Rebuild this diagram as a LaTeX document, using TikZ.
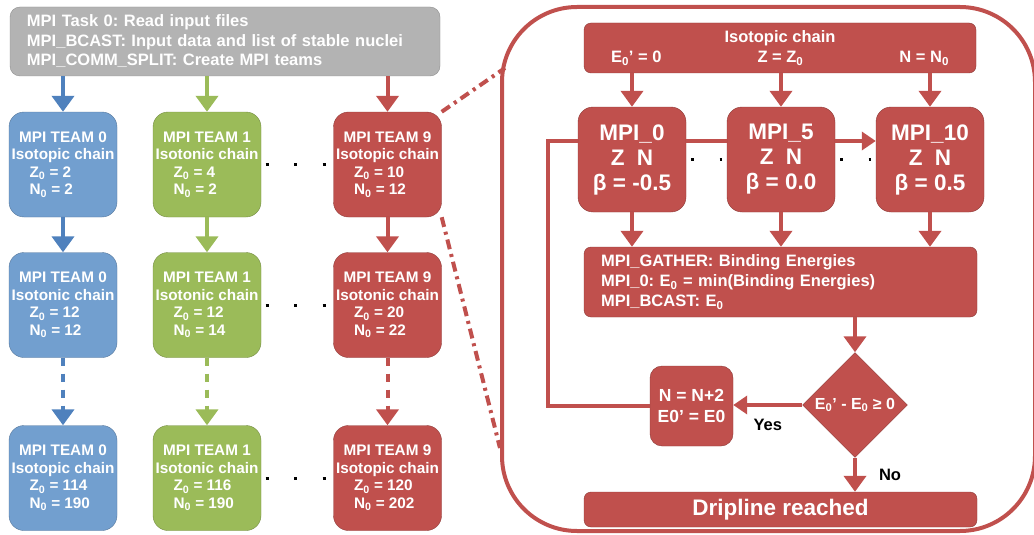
\documentclass[tikz,border=0pt]{standalone}
\usepackage{fontspec}
\setmainfont{Liberation Sans}
\usetikzlibrary{arrows.meta,shapes.geometric}
\frenchspacing
\definecolor{teamblue}{HTML}{729FCF}
\definecolor{lineblue}{HTML}{4F81BD}
\definecolor{teamgreen}{HTML}{9BBB59}
\definecolor{teamred}{HTML}{C0504D}
\definecolor{darkred}{HTML}{8C3A37}
\definecolor{taskgray}{HTML}{B3B3B3}
\newcommand{\teamlabel}[4]{MPI TEAM #1\\#2\\\makebox[67pt][l]{Z\textsubscript{0} = #3}\\\makebox[67pt][l]{N\textsubscript{0} = #4}}

\begin{document}
\begin{tikzpicture}[x=1pt, y=-1pt, font=\bfseries,
  task/.style = {shape=rectangle, draw=taskgray!80!black, fill=taskgray, text=white, align=left, rounded corners=10pt, text width=396pt, inner xsep=17pt, minimum height=69pt, font=\bfseries\fontsize{16.5}{19.5}\selectfont},
  team/.style = {shape=rectangle, draw=#1!75!black, fill=#1, text=white, align=center, rounded corners=15pt, minimum width=108pt, minimum height=105pt, inner sep=0pt, font=\bfseries\fontsize{15.3}{17.5}\selectfont},
  redbox/.style = {shape=rectangle, draw=darkred, fill=teamred, text=white, rounded corners=7pt, inner sep=0pt},
  mpibox/.style = {redbox, rounded corners=15pt, minimum width=108pt, minimum height=105pt, align=center, font=\bfseries\fontsize{22.5}{25}\selectfont},
  flow/.style = {draw=#1, line width=4pt, -{Triangle[width=22pt,length=16pt]}},
  hflow/.style = {flow=#1, -{Triangle[width=18pt,length=14pt]}},
  dashflow/.style = {flow=#1, dash pattern=on 8pt off 8pt},
  redline/.style = {draw=teamred, line width=4pt},
  zoomline/.style = {redline, dash pattern=on 10pt off 5pt on 3pt off 5pt},
  dotline/.style = {draw=black, line width=3pt, dash pattern=on 3pt off 25.5pt},
  answer/.style = {text=black, inner sep=0pt, font=\bfseries\fontsize{16.5}{18}\selectfont}]
\useasboundingbox (0,0) rectangle (1034,535);

\node[task] (task) at (225,41.5) {MPI Task 0: Read input files\\MPI\_BCAST: Input data and list of stable nuclei\\MPI\_COMM\_SPLIT: Create MPI teams};

\node[team=teamblue] (b1) at (63,164.5) {\teamlabel{0}{Isotopic chain}{2}{2}};
\node[team=teamgreen] (g1) at (207,164.5) {\teamlabel{1}{Isotonic chain}{4}{2}};
\node[team=teamred] (r1) at (387.5,164.5) {\teamlabel{9}{Isotopic chain}{10}{12}};
\node[team=teamblue] (b2) at (63,305) {\teamlabel{0}{Isotonic chain}{12}{12}};
\node[team=teamgreen] (g2) at (207,305) {\teamlabel{1}{Isotonic chain}{12}{14}};
\node[team=teamred] (r2) at (387.5,305) {\teamlabel{9}{Isotonic chain}{20}{22}};
\node[team=teamblue] (b3) at (63,478) {\teamlabel{0}{Isotopic chain}{114}{190}};
\node[team=teamgreen] (g3) at (207,478) {\teamlabel{1}{Isotonic chain}{116}{190}};
\node[team=teamred] (r3) at (387.5,478) {\teamlabel{9}{Isotopic chain}{120}{202}};

\draw[flow=lineblue] (task.south -| b1) -- (b1);
\draw[flow=teamgreen] (task.south -| g1) -- (g1);
\draw[flow=teamred] (task.south -| r1) -- (r1);
\draw[flow=lineblue] (b1) -- (b2);
\draw[flow=teamgreen] (g1) -- (g2);
\draw[flow=teamred] (r1) -- (r2);
\draw[dashflow=lineblue] (b2) -- (b3);
\draw[dashflow=teamgreen] (g2) -- (g3);
\draw[dashflow=teamred] (r2) -- (r3);

\draw[dotline] ([xshift=4.5pt]g1.east) -- ([xshift=-6pt]r1.west);
\draw[dotline] ([xshift=4.5pt]g2.east) -- ([xshift=-6pt]r2.west);
\draw[dotline] ([xshift=4.5pt]g3.east) -- ([xshift=-6pt]r3.west);

\draw[redline, rounded corners=75pt] (502,7) rectangle (1035,531);
\coordinate (z1) at (505,68);
\coordinate (z2) at (500,448);
\draw[zoomline] (r1.north east) -- (z1);
\draw[zoomline] (r1.south east) -- (z2);

\node[redbox, minimum width=392pt, minimum height=50pt, align=center, font=\bfseries\fontsize{16.5}{20}\selectfont] (chain) at (780,48) {Isotopic chain\\\makebox[338pt]{E\textsubscript{0}’ = 0\hfill Z = Z\textsubscript{0}\hfill N = N\textsubscript{0}}};

\node[mpibox] (m0) at (632,159.5) {MPI\_0\\Z~~N\\β = -0.5};
\node[mpibox] (m5) at (781,159.5) {MPI\_5\\Z~~N\\β = 0.0};
\node[mpibox] (m10) at (930,159.5) {MPI\_10\\Z~~N\\β = 0.5};

\node[redbox, minimum width=393pt, minimum height=70pt, text width=359pt, inner xsep=17pt, align=left, font=\bfseries\fontsize{16.5}{20}\selectfont] (gather) at (780.5,282) {MPI\_GATHER: Binding Energies\\MPI\_0: E\textsubscript{0} = min(Binding Energies)\\MPI\_BCAST: E\textsubscript{0}};

\node[redbox, shape=diamond, sharp corners, minimum size=105pt, font=\bfseries\fontsize{16}{18}\selectfont] (test) at (855,405) {E\textsubscript{0}’ - E\textsubscript{0} ≥ 0};
\node[redbox, rounded corners=12pt, minimum width=83pt, minimum height=80pt, align=center, font=\bfseries\fontsize{17.5}{21}\selectfont] (next) at (691.5,406) {N = N+2\\E0’ = E0};
\node[redbox, minimum width=393pt, minimum height=35pt, font=\bfseries\fontsize{22.5}{25}\selectfont] (drip) at (780.5,509.5) {Dripline reached};

\draw[flow=teamred] (chain.south -| m0) -- (m0);
\draw[flow=teamred] (chain.south -| m5) -- (m5);
\draw[flow=teamred] (chain.south -| m10) -- (m10);
\draw[flow=teamred] (m0) -- (m0 |- gather.north);
\draw[flow=teamred] (m5) -- (m5 |- gather.north);
\draw[flow=teamred] (m10) -- (m10 |- gather.north);
\draw[dotline] ([xshift=5pt]m0.east) -- ([xshift=-5pt]m5.west);
\draw[dotline] ([xshift=5pt]m5.east) -- ([xshift=-5pt]m10.west);

\coordinate (loop) at (548,141);
\draw[redline] (next.west) -| (loop) -- (loop -| m0.west);
\draw[redline] (loop -| m0.east) -- (loop -| m5.west);
\draw[hflow=teamred] (loop -| m5.east) -- (loop -| m10.west);

\draw[flow=teamred] (gather.south -| test) -- (test);
\draw[hflow=teamred] (test.west) -- (test.west -| next.east) node[answer, midway, below=12pt] {Yes};
\draw[flow=teamred] (test.south) -- (test.south |- drip.north) node[answer, midway, right=22pt] {No};
\end{tikzpicture}
\end{document}
